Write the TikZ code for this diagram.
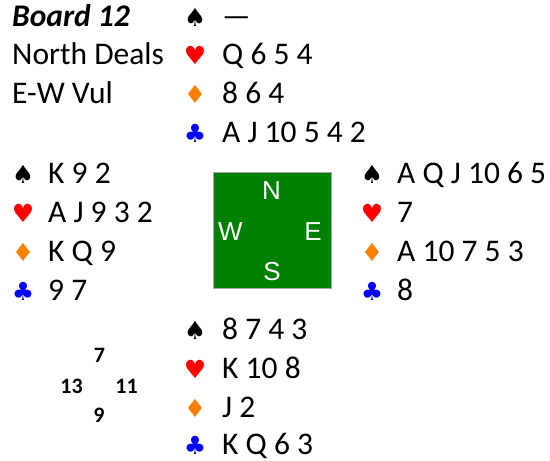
\documentclass[tikz,border=0pt]{standalone}
\usepackage{fontspec}
\setmainfont{Carlito}
\newfontfamily\symfont{DejaVu Sans}
\newfontfamily\arialfont{Liberation Sans}
\definecolor{hrt}{HTML}{FF0000}
\definecolor{dia}{HTML}{FF8000}
\definecolor{clb}{HTML}{0000FF}
\definecolor{felt}{HTML}{008000}
\begin{document}
\begin{tikzpicture}[x=1pt,y=-1pt,
  txt/.style={anchor=base west,inner sep=0pt,font=\fontsize{31.5}{36}\selectfont},
  suit/.style={anchor=base,inner sep=0pt,font=\symfont\fontsize{25}{30}\selectfont},
  sp/.style={suit,text=black},
  he/.style={suit,text=hrt},
  di/.style={suit,text=dia},
  cl/.style={suit,text=clb},
  dir/.style={anchor=base,inner sep=0pt,text=white,font=\arialfont\fontsize{26}{30}\selectfont},
  score/.style={anchor=base,inner sep=0pt,font=\bfseries\fontsize{22}{26}\selectfont}]
\useasboundingbox (0,0) rectangle (550,461);
% info
\node[txt,font=\bfseries\itshape\fontsize{31.5}{36}\selectfont] (board) at (12,26) {Board 12};
\node[txt] (deal) at (12,64.5) {North Deals};
\node[txt] (vul) at (12,103) {E-W Vul};
% North
\node[sp] (ns) at (195,26) {♠};   \node[txt] (nsc) at (222,26) {—};
\node[he] (nh) at (195,64.5) {♥};  \node[txt] (nhc) at (222,64.5) {Q 6 5 4};
\node[di] (nd) at (195,103) {♦};   \node[txt] (ndc) at (222,103) {8 6 4};
\node[cl] (nc) at (195,142) {♣}; \node[txt] (ncc) at (222,142) {A J 10 5 4 2};
% West
\node[sp] (ws) at (23,183) {♠};  \node[txt] (wsc) at (48,183) {K 9 2};
\node[he] (wh) at (23,222) {♥};  \node[txt] (whc) at (48,222) {A J 9 3 2};
\node[di] (wd) at (23,261) {♦};  \node[txt] (wdc) at (48,261) {K Q 9};
\node[cl] (wc) at (23,300) {♣};  \node[txt] (wcc) at (48,300) {9 7};
% East
\node[sp] (es) at (372,183) {♠};  \node[txt] (esc) at (397,183) {A Q J 10 6 5};
\node[he] (eh) at (372,222) {♥};  \node[txt] (ehc) at (397,222) {7};
\node[di] (ed) at (372,261) {♦};  \node[txt] (edc) at (397,261) {A 10 7 5 3};
\node[cl] (ec) at (372,300) {♣};  \node[txt] (ecc) at (397,300) {8};
% South
\node[sp] (ss) at (195,339) {♠};  \node[txt] (ssc) at (222,339) {8 7 4 3};
\node[he] (sh) at (195,378) {♥};  \node[txt] (shc) at (222,378) {K 10 8};
\node[di] (sd) at (195,417) {♦};  \node[txt] (sdc) at (222,417) {J 2};
\node[cl] (sc) at (195,454.5) {♣};  \node[txt] (scc) at (222,454.5) {K Q 6 3};
% table
\node[draw=black!35,line width=0.8pt,fill=felt,minimum width=118pt,minimum height=116pt,inner sep=0pt] (table) at (272,230) {};
\node[dir] (dn) at (271.5,199) {N};
\node[dir] (dw) at (230.5,240) {W};
\node[dir] (de) at (313,240) {E};
\node[dir] (ds) at (272,280) {S};
% scores
\node[score] (s7) at (99.5,362) {7};
\node[score] (s13) at (71.5,393) {13};
\node[score] (s11) at (126.5,393) {11};
\node[score] (s9) at (99,422) {9};
\end{tikzpicture}
\end{document}
